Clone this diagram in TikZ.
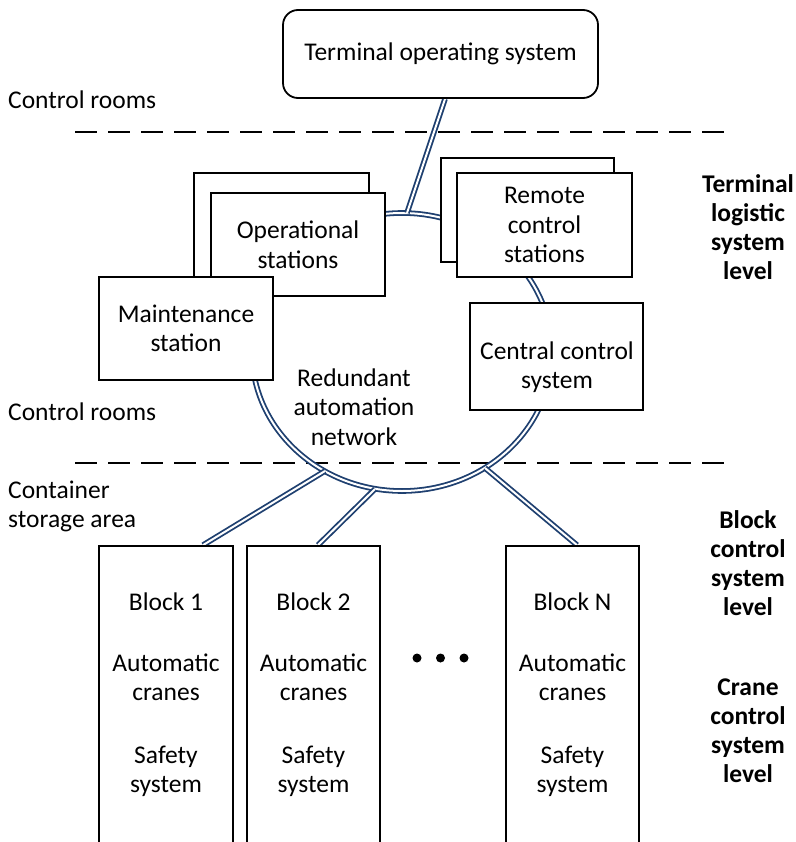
\documentclass[tikz,border=0pt]{standalone}
\usepackage{fontspec}
\setmainfont{Carlito}
\usetikzlibrary{calc}
\definecolor{netblue}{RGB}{31,64,112}
\pgfdeclarelayer{back}
\pgfsetlayers{back,main}
\begin{document}
\begin{tikzpicture}[x=1pt,y=-1pt,
  font=\fontsize{25.5}{29.5}\selectfont,
  box/.style={draw, line width=1.8pt, fill=white, inner sep=0pt},
  net/.style={draw=netblue, line width=1.8pt, double=white, double distance=2pt},
  sep/.style={line width=2.5pt, dash pattern=on 22pt off 11pt},
  txt/.style={align=center, inner sep=0pt},
  lvl/.style={align=center, inner sep=0pt, font=\fontsize{25.5}{29}\selectfont\bfseries}]
\useasboundingbox (0,0) rectangle (795,842);

% boxes
\node[box, rounded corners=15pt, minimum width=315pt, minimum height=88pt, align=center] (tos) at (440.5,54) {Terminal operating system};
\node[box, minimum width=175pt, minimum height=104pt] (opback) at (281.5,225) {};
\node[box, minimum width=174pt, minimum height=103pt, align=center] (opfront) at (298,244.5) {Operational\\stations};
\node[box, minimum width=174pt, minimum height=103pt, align=center] (maint) at (186,328.5) {Maintenance\\station};
\node[box, minimum width=173pt, minimum height=104pt] (rcback) at (527.5,210) {};
\node[box, minimum width=175pt, minimum height=104pt, align=center] (rcfront) at (544.5,225) {Remote\\control\\stations};
\node[box, minimum width=173pt, minimum height=107pt] (central) at (556.5,356.5) {};
\node[txt] (cctext) at (557,367) {Central control\\system};
\node[txt] (ran) at (354,407) {Redundant\\automation\\network};

% blocks
\node[box, minimum width=134pt, minimum height=304pt] (b1) at (166,698) {};
\node[box, minimum width=133pt, minimum height=304pt] (b2) at (313.5,698) {};
\node[box, minimum width=133pt, minimum height=304pt] (bn) at (572.5,698) {};
\node[txt] (b1t) at (b1.center |- 0,695) {Block 1\\[31pt]Automatic\\cranes\\[33pt]Safety\\system};
\node[txt] (b2t) at (b2.center |- 0,695) {Block 2\\[31pt]Automatic\\cranes\\[33pt]Safety\\system};
\node[txt] (bnt) at (bn.center |- 0,695) {Block N\\[31pt]Automatic\\cranes\\[33pt]Safety\\system};
\fill (417,658) circle (4.5pt) (440.5,658) circle (4.5pt) (464,658) circle (4.5pt);

% left labels
\node[txt, anchor=west] (cr1) at (8,100) {Control rooms};
\node[txt, anchor=west] (cr2) at (8,412) {Control rooms};
\node[txt, anchor=west] (csa) at (8,507) {\begin{tabular}{@{}l@{}}Container\\storage area\end{tabular}};

% right labels
\node[lvl] (tlsl) at (748,227) {Terminal\\logistic\\system\\level};
\node[lvl] (bcsl) at (748,563) {Block\\control\\system\\level};
\node[lvl] (ccsl) at (748,731) {Crane\\control\\system\\level};

% coordinates
\coordinate (ringc) at (402,352);
\coordinate (jtop) at (407,213);
\coordinate (jb1) at (325,471);
\coordinate (jb2) at (375,489);
\coordinate (jbn) at (485,468);
\coordinate (d1a) at (75,132);
\coordinate (d1b) at (735,132);
\coordinate (d2a) at (75,463);
\coordinate (d2b) at (735,463);

\begin{pgfonlayer}{back}
  \draw[sep] (d1a) -- (d1b);
  \draw[sep] (d2a) -- (d2b);
  \draw[net] (ringc) ellipse [x radius=150, y radius=139];
  \draw[net] ([xshift=4.5pt]tos.south) -- (jtop);
  \draw[net] (jb1) -- ([xshift=37pt]b1.north);
  \draw[net] (jb2) -- ([xshift=4.5pt]b2.north);
  \draw[net] (jbn) -- ([xshift=4.5pt]bn.north);
\end{pgfonlayer}
\end{tikzpicture}
\end{document}
